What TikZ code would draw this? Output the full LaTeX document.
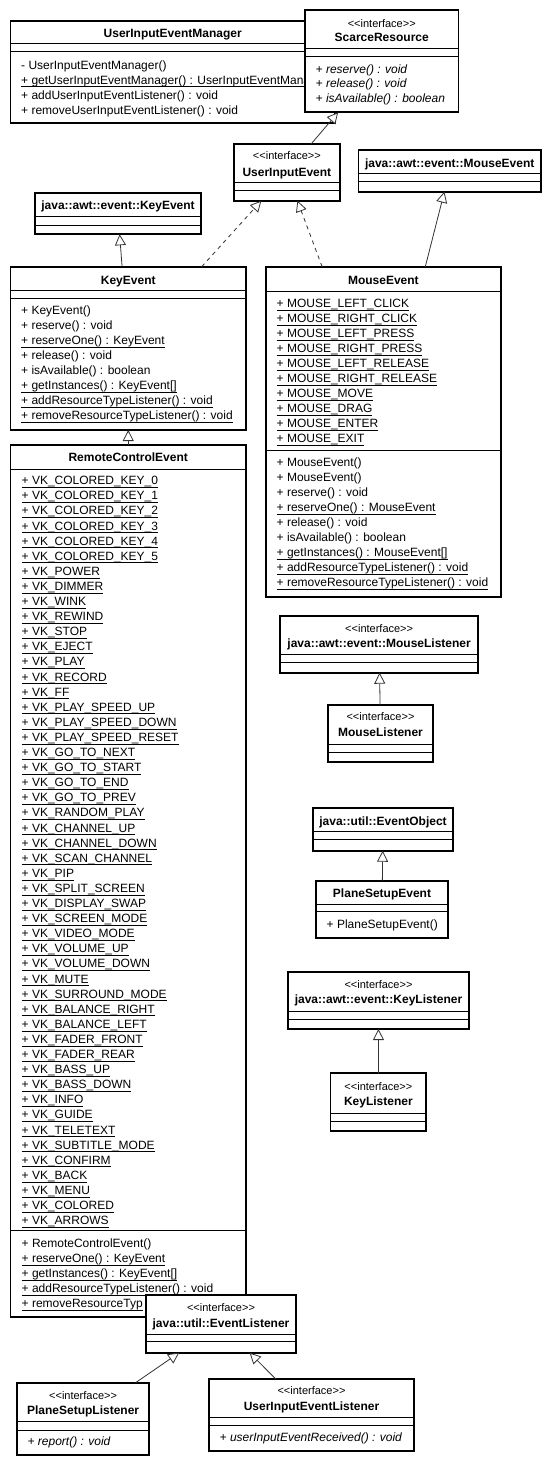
\documentclass[tikz,border=0pt]{standalone}
\usepackage{fontspec}
\setmainfont{Liberation Sans}
\newfontfamily\stereofont{Liberation Sans}
\usepackage{tikz}
\usetikzlibrary{arrows.meta,fit}
\newcommand{\stat}[1]{\underline{\smash{#1}\rule[-1pt]{0pt}{0pt}}}
\newcommand{\compsep}[2]{\draw[sep] (#1.west |- 0,#2) -- (#1.east |- 0,#2);}
\tikzset{
  classbox/.style={draw=black, line width=1.7pt, fill=white, inner sep=0pt, outer sep=0pt},
  sep/.style={draw=black, line width=0.9pt},
  cname/.style={font=\fontsize{12}{14}\selectfont\bfseries, inner sep=0pt, anchor=base},
  stereo/.style={font=\stereofont\fontsize{11}{13}\selectfont, inner sep=0pt, anchor=base},
  member/.style={font=\fontsize{12}{14}\selectfont, inner sep=0pt, anchor=base west},
  abstract/.style={member, font=\fontsize{12}{14}\selectfont\itshape},
  inherit/.style={draw=black!80, line width=0.8pt, -{Triangle[length=11pt, width=11pt, fill=white]}},
  realize/.style={inherit, dash pattern=on 4pt off 4pt}
}

\begin{document}
\begin{tikzpicture}[x=1pt, y=-1pt]
  \path[use as bounding box, fill=white] (0,0) rectangle (551,1465);

  % UserInputEventManager (partly under ScarceResource)
  \node[classbox, fit={(10.5,21) (335,122.7)}] (mgr) {};
  \node[cname] (mgr-t) at (172.75,37.5) {UserInputEventManager};
  \compsep{mgr}{43.7}
  \compsep{mgr}{51.7}
  \foreach \txt [count=\i from 0] in {- UserInputEventManager(),
      \stat{+ getUserInputEventManager() : UserInputEventManager},
      + addUserInputEventListener() : void, + removeUserInputEventListener() : void}
    \node[member] (mgr-m\i) at (21,{69+15*\i}) {\txt};

  % ScarceResource
  \node[classbox, fit={(305,10) (458.5,112.3)}] (sr) {};
  \node[stereo] (sr-s) at (sr.north |- 0,27) {<<interface>>};
  \node[cname] (sr-t) at (sr.north |- 0,41.3) {ScarceResource};
  \compsep{sr}{48.3}
  \compsep{sr}{56.7}
  \foreach \txt [count=\i from 0] in {+ reserve() : void, + release() : void, + isAvailable() : boolean}
    \node[abstract] (sr-m\i) at (315.5,{73+14.7*\i}) {\txt};

  % UserInputEvent
  \node[classbox, fit={(234,144) (339.8,200.7)}] (uie) {};
  \node[stereo] (uie-s) at (uie.north |- 0,159.5) {<<interface>>};
  \node[cname] (uie-t) at (uie.north |- 0,176.7) {UserInputEvent};
  \compsep{uie}{182.7}
  \compsep{uie}{190.7}

  % java::awt::event::MouseEvent
  \node[classbox, fit={(358.4,150) (541,191.7)}] (awtme) {};
  \node[cname] (awtme-t) at (awtme.north |- 0,167.3) {java::awt::event::MouseEvent};
  \compsep{awtme}{173.3}
  \compsep{awtme}{181.7}

  % java::awt::event::KeyEvent
  \node[classbox, fit={(35.1,192.7) (201,234.3)}] (awtke) {};
  \node[cname] (awtke-t) at (awtke.north |- 0,209.7) {java::awt::event::KeyEvent};
  \compsep{awtke}{216.7}
  \compsep{awtke}{225}

  % KeyEvent
  \node[classbox, fit={(10.5,266.7) (246,430)}] (ke) {};
  \node[cname] (ke-t) at (ke.north |- 0,284) {KeyEvent};
  \compsep{ke}{290.7}
  \compsep{ke}{298.3}
  \foreach \txt [count=\i from 0] in {+ KeyEvent(), + reserve() : void, \stat{+ reserveOne() : KeyEvent},
      + release() : void, + isAvailable() : boolean, \stat{+ getInstances() : KeyEvent[]},
      \stat{+ addResourceTypeListener() : void}, \stat{+ removeResourceTypeListener() : void}}
    \node[member] (ke-m\i) at (21,{314.7+15*\i}) {\txt};

  % MouseEvent
  \node[classbox, fit={(266,266.7) (500.7,596.7)}] (me) {};
  \node[cname] (me-t) at (me.north |- 0,284) {MouseEvent};
  \compsep{me}{291.7}
  \foreach \k [count=\i from 0] in {LEFT\_CLICK, RIGHT\_CLICK, LEFT\_PRESS, RIGHT\_PRESS, LEFT\_RELEASE,
      RIGHT\_RELEASE, MOVE, DRAG, ENTER, EXIT}
    \node[member] (me-a\i) at (276.5,{307.3+15*\i}) {\stat{+ MOUSE\_\k}};
  \compsep{me}{450.7}
  \foreach \txt [count=\i from 0] in {+ MouseEvent(), + MouseEvent(), + reserve() : void,
      \stat{+ reserveOne() : MouseEvent}, + release() : void, + isAvailable() : boolean,
      \stat{+ getInstances() : MouseEvent[]}, \stat{+ addResourceTypeListener() : void},
      \stat{+ removeResourceTypeListener() : void}}
    \node[member] (me-m\i) at (276.5,{466.7+15*\i}) {\txt};

  % RemoteControlEvent
  \node[classbox, fit={(10.5,445) (246,1316.7)}] (rce) {};
  \node[cname] (rce-t) at (rce.north |- 0,461.3) {RemoteControlEvent};
  \compsep{rce}{469}
  \foreach \k [count=\i from 0] in {COLORED\_KEY\_0, COLORED\_KEY\_1, COLORED\_KEY\_2, COLORED\_KEY\_3,
      COLORED\_KEY\_4, COLORED\_KEY\_5, POWER, DIMMER, WINK, REWIND, STOP, EJECT, PLAY, RECORD, FF,
      PLAY\_SPEED\_UP, PLAY\_SPEED\_DOWN, PLAY\_SPEED\_RESET, GO\_TO\_NEXT, GO\_TO\_START, GO\_TO\_END,
      GO\_TO\_PREV, RANDOM\_PLAY, CHANNEL\_UP, CHANNEL\_DOWN, SCAN\_CHANNEL, PIP, SPLIT\_SCREEN,
      DISPLAY\_SWAP, SCREEN\_MODE, VIDEO\_MODE, VOLUME\_UP, VOLUME\_DOWN, MUTE, SURROUND\_MODE,
      BALANCE\_RIGHT, BALANCE\_LEFT, FADER\_FRONT, FADER\_REAR, BASS\_UP, BASS\_DOWN, INFO, GUIDE,
      TELETEXT, SUBTITLE\_MODE, CONFIRM, BACK, MENU, COLORED, ARROWS}
    \node[member] (rce-a\i) at (21.5,{484.7+15.1*\i}) {\stat{+ VK\_\k}};
  \compsep{rce}{1230.7}
  \foreach \txt [count=\i from 0] in {+ RemoteControlEvent(), \stat{+ reserveOne() : KeyEvent},
      \stat{+ getInstances() : KeyEvent[]}, \stat{+ addResourceTypeListener() : void},
      \stat{+ removeResourceTyp}}
    \node[member] (rce-m\i) at (21.5,{1247.3+15*\i}) {\txt};

  % java::awt::event::MouseListener
  \node[classbox, fit={(280,615.7) (478.3,672.7)}] (awtml) {};
  \node[stereo] (awtml-s) at (awtml.north |- 0,632.5) {<<interface>>};
  \node[cname] (awtml-t) at (awtml.north |- 0,647.7) {java::awt::event::MouseListener};
  \compsep{awtml}{654.3}
  \compsep{awtml}{662.3}

  % MouseListener
  \node[classbox, fit={(327.7,705) (433.3,762)}] (ml) {};
  \node[stereo] (ml-s) at (ml.north |- 0,720.8) {<<interface>>};
  \node[cname] (ml-t) at (ml.north |- 0,736.7) {MouseListener};
  \compsep{ml}{744}
  \compsep{ml}{752}

  % java::util::EventObject
  \node[classbox, fit={(312.7,807.7) (453.3,850.7)}] (eo) {};
  \node[cname] (eo-t) at (eo.north |- 0,825.7) {java::util::EventObject};
  \compsep{eo}{831.7}
  \compsep{eo}{839.3}

  % PlaneSetupEvent
  \node[classbox, fit={(315.7,880.7) (448.3,937.7)}] (pse) {};
  \node[cname] (pse-t) at (pse.north |- 0,897.3) {PlaneSetupEvent};
  \compsep{pse}{904}
  \compsep{pse}{911.7}
  \node[member] (pse-m0) at (326.5,928) {+ PlaneSetupEvent()};

  % java::awt::event::KeyListener
  \node[classbox, fit={(287.7,971.7) (469.3,1029)}] (awtkl) {};
  \node[stereo] (awtkl-s) at (awtkl.north |- 0,988.5) {<<interface>>};
  \node[cname] (awtkl-t) at (awtkl.north |- 0,1003.3) {java::awt::event::KeyListener};
  \compsep{awtkl}{1011}
  \compsep{awtkl}{1019}

  % KeyListener
  \node[classbox, fit={(330.6,1073.3) (426.2,1131)}] (kl) {};
  \node[stereo] (kl-s) at (kl.north |- 0,1090.2) {<<interface>>};
  \node[cname] (kl-t) at (kl.north |- 0,1105.7) {KeyListener};
  \compsep{kl}{1113.3}
  \compsep{kl}{1121.7}

  % java::util::EventListener (over RemoteControlEvent)
  \node[classbox, fit={(145.8,1295) (296.2,1352.7)}] (el) {};
  \node[stereo] (el-s) at (el.north |- 0,1311.8) {<<interface>>};
  \node[cname] (el-t) at (el.north |- 0,1327.3) {java::util::EventListener};
  \compsep{el}{1334}
  \compsep{el}{1341.7}

  % PlaneSetupListener
  \node[classbox, fit={(16.9,1382.7) (149.3,1455)}] (psl) {};
  \node[stereo] (psl-s) at (psl.north |- 0,1399.2) {<<interface>>};
  \node[cname] (psl-t) at (psl.north |- 0,1414.7) {PlaneSetupListener};
  \compsep{psl}{1421.7}
  \compsep{psl}{1430}
  \node[abstract] (psl-m0) at (27.4,1445.7) {+ report() : void};

  % UserInputEventListener
  \node[classbox, fit={(209,1379) (414,1451)}] (uiel) {};
  \node[stereo] (uiel-s) at (uiel.north |- 0,1394.5) {<<interface>>};
  \node[cname] (uiel-t) at (uiel.north |- 0,1410.7) {UserInputEventListener};
  \compsep{uiel}{1417.3}
  \compsep{uiel}{1425.7}
  \node[abstract] (uiel-m0) at (219.5,1441.3) {+ userInputEventReceived() : void};

  % generalizations and realizations
  \draw[inherit] (uie) -- (sr);
  \draw[realize] (ke) -- (uie);
  \draw[realize] (me) -- (uie);
  \draw[inherit] (ke) -- (awtke);
  \draw[inherit] (me) -- (awtme);
  \draw[inherit] (rce) -- (ke);
  \draw[inherit] (ml) -- (awtml);
  \draw[inherit] (pse) -- (eo);
  \draw[inherit] (kl) -- (awtkl);
  \draw[inherit] (psl) -- (el);
  \draw[inherit] (uiel) -- (el);
\end{tikzpicture}
\end{document}
